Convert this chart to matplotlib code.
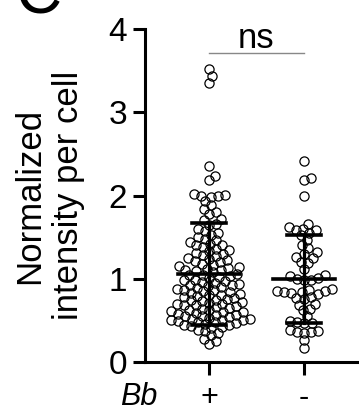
import matplotlib
matplotlib.use("Agg")
import matplotlib.pyplot as plt
import numpy as np

plt.rcParams['font.family'] = ['Liberation Sans', 'DejaVu Sans']

groups = ["+", "-"]
plus_vals = [3.52, 3.43, 3.35, 2.35, 2.24, 2.19, 2.02, 2.01, 2.0, 1.99, 1.98, 1.93, 1.88,
             1.84, 1.8, 1.78, 1.72, 1.7, 1.66, 1.64, 1.6, 1.57, 1.55, 1.52, 1.5, 1.48, 1.46,
             1.44, 1.42, 1.41, 1.4, 1.38, 1.36, 1.34, 1.33, 1.31, 1.3, 1.29, 1.27, 1.25, 1.24,
             1.22, 1.21, 1.2, 1.18, 1.17, 1.15, 1.14, 1.13, 1.12, 1.11, 1.1, 1.09, 1.08, 1.06,
             1.05, 1.04, 1.03, 1.02, 1.01, 0.99, 0.98, 0.97, 0.96, 0.95, 0.94, 0.93, 0.92,
             0.91, 0.9, 0.89, 0.88, 0.87, 0.86, 0.85, 0.84, 0.83, 0.82, 0.81, 0.8, 0.79, 0.78,
             0.77, 0.76, 0.75, 0.74, 0.73, 0.72, 0.71, 0.7, 0.7, 0.69, 0.68, 0.67, 0.66, 0.65,
             0.64, 0.63, 0.62, 0.61, 0.6, 0.6, 0.59, 0.58, 0.57, 0.56, 0.55, 0.55, 0.54, 0.53,
             0.52, 0.52, 0.51, 0.5, 0.5, 0.49, 0.48, 0.48, 0.47, 0.46, 0.45, 0.44, 0.43, 0.42,
             0.41, 0.39, 0.37, 0.35, 0.32, 0.28, 0.25, 0.22]
minus_vals = [2.42, 2.21, 2.19, 2.0, 1.66, 1.62, 1.6, 1.58, 1.58, 1.55, 1.52, 1.47, 1.41,
              1.37, 1.32, 1.3, 1.26, 1.25, 1.2, 1.19, 1.12, 1.05, 1.03, 1.01, 1.0, 0.99, 0.98,
              0.88, 0.86, 0.85, 0.85, 0.84, 0.84, 0.83, 0.82, 0.78, 0.77, 0.76, 0.7, 0.69,
              0.64, 0.62, 0.55, 0.49, 0.48, 0.47, 0.47, 0.38, 0.37, 0.36, 0.36, 0.35, 0.26, 0.17]
means = [1.06, 1.0]
sds = [0.61, 0.53]


def swarm(ax, xc, vals, diam_px, overlap=0.8):
    # simple beeswarm in pixel space
    trans = ax.transData
    ys = np.sort(np.array(vals))
    x0, _ = trans.transform((xc, 0))
    placed = []
    out = []
    d = diam_px * overlap
    for y in ys:
        _, py = trans.transform((xc, y))
        k = 0
        while True:
            off = k * 0.5
            cand = [off] if off == 0 else [off, -off]
            ok = None
            for c in cand:
                if all((c - px) ** 2 + (py - qy) ** 2 >= d * d for px, qy in placed):
                    ok = c
                    break
            if ok is not None:
                placed.append((ok, py))
                break
            k += 1
        out.append(x0 + placed[-1][0])
    inv = trans.inverted()
    xs = [inv.transform((px, 0))[0] for px in out]
    return xs, ys


fig = plt.figure(figsize=(3.59, 4.13), dpi=100)
W, H = 359, 413
ax = fig.add_axes([145 / W, 1 - 362 / H, 1 - 145 / W, (362 - 29) / H])
ax.set_xlim(-64 / 95, 1 + 55 / 95)
ax.set_ylim(0, 4)

for i, vals in enumerate([plus_vals, minus_vals]):
    xs, ys = swarm(ax, i, vals, 9.0, overlap=0.78)
    ax.plot(xs, ys, 'o', ms=6.6, mfc='none', mec='black', mew=0.9, zorder=2)
    m, s = means[i], sds[i]
    ax.plot([i - 0.33, i + 0.33], [m, m], color='black', lw=2.6, zorder=3)
    ax.plot([i, i], [m - s, m + s], color='black', lw=2.3, zorder=3)
    for yy in (m - s, m + s):
        ax.plot([i - 0.18, i + 0.18], [yy, yy], color='black', lw=2.6, zorder=3)

ax.spines['top'].set_visible(False)
ax.spines['right'].set_visible(False)
ax.spines['left'].set_linewidth(2.2)
ax.spines['bottom'].set_linewidth(2.2)
ax.set_yticks([0, 1, 2, 3, 4])
ax.set_xticks([0, 1])
ax.set_xticklabels(groups)
ax.tick_params(axis='both', length=9, width=2.2, labelsize=24, pad=4)
ax.tick_params(axis='x', labelsize=22, pad=6)
ax.set_ylabel("Normalized\nintensity per cell", fontsize=25, labelpad=17)

# significance bar
ax.plot([0, 1], [3.71, 3.71], color='#888888', lw=1.0, clip_on=False)
ax.text(0.5, 3.77, "ns", ha='center', va='baseline', fontsize=25)

fig.text(139 / W, 1 - 405 / H, "Bb", style='italic', ha='center', va='baseline', fontsize=22)
fig.text(16 / W, 1 - 13 / H, "C", ha='left', va='baseline', fontsize=46)

fig.savefig("out.png", dpi=100)
